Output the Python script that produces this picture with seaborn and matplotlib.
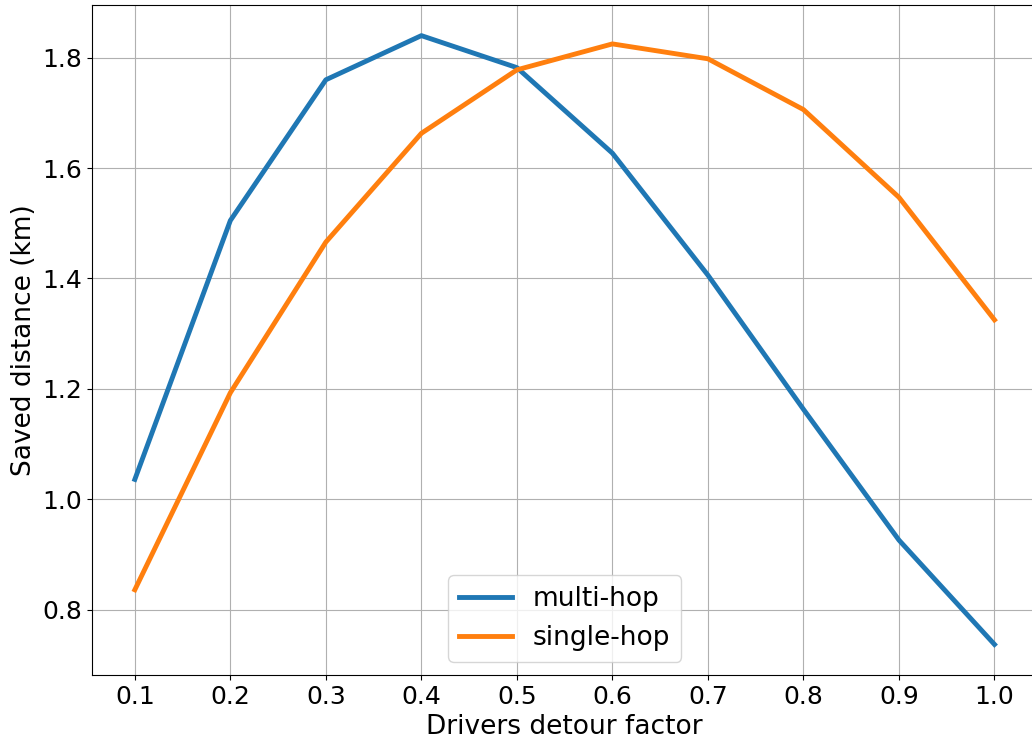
import matplotlib
matplotlib.use("Agg")
import matplotlib.pyplot as plt
import seaborn as sns
import pandas as pd

# ── Data ──────────────────────────────────────────────────────────────────────
detour_factor = [0.1, 0.2, 0.3, 0.4, 0.5, 0.6, 0.7, 0.8, 0.9, 1.0]
multi_hop     = [1.036, 1.505, 1.760, 1.840, 1.782, 1.627, 1.406, 1.163, 0.926, 0.737]
single_hop    = [0.836, 1.193, 1.466, 1.663, 1.778, 1.825, 1.798, 1.706, 1.547, 1.325]

df = pd.DataFrame({
    "detour": detour_factor * 2,
    "saved": multi_hop + single_hop,
    "method": ["multi-hop"] * len(detour_factor) + ["single-hop"] * len(detour_factor),
})

# ── Plot ──────────────────────────────────────────────────────────────────────
fig, ax = plt.subplots(figsize=(10.32, 7.4), dpi=100)
sns.lineplot(data=df, x="detour", y="saved", hue="method",
             palette=["#1f77b4", "#ff7f0e"], linewidth=3.5, ax=ax)

ax.set_xticks(detour_factor)
ax.set_xticklabels([f"{v:.1f}" for v in detour_factor])
ax.tick_params(labelsize=18)
ax.set_xlabel("Drivers detour factor", fontsize=19)
ax.set_ylabel("Saved distance (km)", fontsize=19)
ax.grid(True)
ax.legend(loc="lower center", fontsize=19, title=None)

# axes runs slightly past the right edge of the figure (cropped in the original)
fig.subplots_adjust(left=0.089, right=1.0053, top=0.993, bottom=0.088)
fig.savefig("out.png")
